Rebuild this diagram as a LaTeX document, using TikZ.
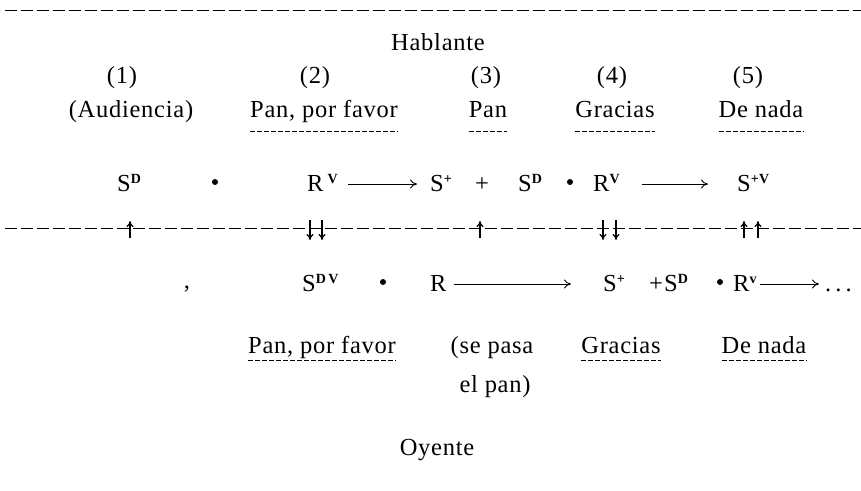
\documentclass[tikz,border=0pt]{standalone}
\usepackage{fontspec}
\setmainfont[LetterSpace=3]{Liberation Serif}
\usetikzlibrary{arrows.meta}
\newcommand\upsc[1]{\raisebox{8pt}{\fontsize{14}{14}\selectfont\bfseries #1}}
\begin{document}
\begin{tikzpicture}[x=1pt,y=-1pt,
  txt/.style={font=\fontsize{24.5}{27}\selectfont, inner sep=0pt, anchor=base},
  frm/.style={font=\fontsize{24.5}{27}\selectfont, inner sep=0pt, anchor=base west},
  sep/.style={line width=0.9pt, dash pattern=on 12pt off 4pt},
  ul/.style={line width=0.7pt, dash pattern=on 5pt off 2pt},
  arr/.style={line width=0.9pt, -{To[length=7pt,width=9pt]}},
  varr/.style={line width=1.1pt, -{To[length=6pt,width=7pt]}},
  pt/.style={circle, fill, inner sep=0pt, minimum size=6pt}
]
\useasboundingbox (0,0) rectangle (861,490);
\draw[sep] (5,10) -- (861,10);
\draw[sep] (5,228) -- (861,228);

% header
\node[txt] (hab) at (438,50) {Hablante};
\node[txt] (n1) at (122,83) {(1)};
\node[txt] (n2) at (315,83) {(2)};
\node[txt] (n3) at (486,83) {(3)};
\node[txt] (n4) at (612,83) {(4)};
\node[txt] (n5) at (748,83) {(5)};
\node[txt] (l1) at (131,117) {(Audiencia)};
\node[txt] (l2) at (324,117) {Pan, por favor};
\node[txt] (l3) at (488,117) {Pan};
\node[txt] (l4) at (615,117) {Gracias};
\node[txt] (l5) at (761,117) {De nada};
\foreach \n in {l2,l3,l4,l5}
  \draw[ul] ([yshift=-14pt]\n.base west) -- ([yshift=-14pt]\n.base east);

% row 1
\node[frm] (a1) at (117,191) {S\upsc{D}};
\node[pt] (d1) at (215,182) {};
\node[frm] (a2) at (307,191) {R\,\upsc{V}};
\node[frm] (a3) at (430,191) {S\upsc{+}};
\node[txt] (a4) at (482,191) {+};
\node[frm] (a5) at (518,191) {S\upsc{D}};
\node[pt] (d2) at (570,182) {};
\node[frm] (a6) at (593,191) {R\upsc{V}};
\node[frm] (a7) at (737,191) {S\upsc{+V}};
\draw[arr, shorten <=10pt, shorten >=13pt] ([yshift=7pt]a2.base east) -- ([yshift=7pt]a3.base west);
\draw[arr, shorten <=22pt, shorten >=29pt] ([yshift=7pt]a6.base east) -- ([yshift=7pt]a7.base west);

% vertical arrows
\draw[varr] (130,238) -- (130,221);
\draw[varr] (310,220) -- (310,240);
\draw[varr] (322,220) -- (322,240);
\draw[varr] (480,238) -- (480,221);
\draw[varr] (603,220) -- (603,240);
\draw[varr] (616,220) -- (616,240);
\draw[varr] (744,238) -- (744,221);
\draw[varr] (758,238) -- (758,221);

% row 2
\node[txt] (cm) at (187,288) {,};
\node[frm] (b1) at (302,291) {S\upsc{D\,V}};
\node[pt] (d3) at (383,282) {};
\node[frm] (b2) at (430,291) {R};
\node[frm] (b3) at (603,291) {S\upsc{+}};
\node[frm] (b4) at (649,291) {+};
\node[frm] (b5) at (664,291) {S\upsc{D}};
\node[pt] (d4) at (720,282) {};
\node[frm] (b6) at (733,291) {R\upsc{v}};
\node[frm] (b7) at (825,291) {.\,.\,.};
\draw[arr, shorten <=7pt, shorten >=32pt] ([yshift=7pt]b2.base east) -- ([yshift=7pt]b3.base west);
\draw[arr, shorten <=3pt, shorten >=6pt] ([yshift=7pt]b6.base east) -- ([yshift=7pt]b7.base west);

% row 3
\node[txt] (m2) at (322,353) {Pan, por favor};
\node[txt] (m3) at (492,353) {(se pasa};
\node[txt] (m3b) at (495,392) {el pan)};
\node[txt] (m4) at (621,353) {Gracias};
\node[txt] (m5) at (764,353) {De nada};
\foreach \n in {m2,m4,m5}
  \draw[ul] ([yshift=-7pt]\n.base west) -- ([yshift=-7pt]\n.base east);

\node[txt] (oy) at (437,455) {Oyente};
\end{tikzpicture}
\end{document}
